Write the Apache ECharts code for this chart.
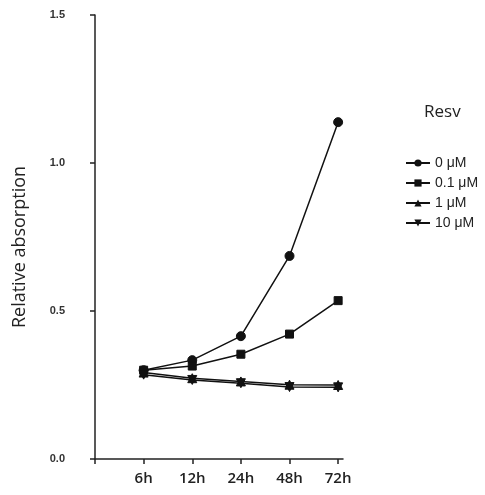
<!DOCTYPE html>
<html>
<head>
<meta charset="utf-8">
<script src="https://cdn.jsdelivr.net/npm/echarts@6/dist/echarts.min.js"></script>
<style>html,body{margin:0;padding:0;background:#fff;}#c{width:485px;height:495px;}</style>
</head>
<body>
<div id="c"></div>
<script>
var categories = ['6h', '12h', '24h', '48h', '72h'];
var seriesNames = ['0 μM', '0.1 μM', '1 μM', '10 μM'];
var v0 = [0.30, 0.334, 0.415, 0.686, 1.138];
var v01 = [0.30, 0.314, 0.354, 0.422, 0.535];
var v1 = [0.292, 0.273, 0.262, 0.251, 0.250];
var v10 = [0.285, 0.267, 0.256, 0.243, 0.242];
var yTicks = [0.0, 0.5, 1.0, 1.5];

function pts(arr) { return arr.map(function (v, i) { return [i + 1, v]; }); }
var symbols = ['circle', 'rect', 'triangle', 'path://M0,0 L10,0 L5,10 Z'];
var values = [v0, v01, v1, v10];

var chart = echarts.init(document.getElementById('c'));
chart.setOption({
  animation: false,
  backgroundColor: '#fff',
  title: {
    text: 'Resv', left: 419, top: 99,
    textStyle: { fontFamily: 'Open Sans', fontSize: 17, fontWeight: 'normal', color: '#222' }
  },
  legend: {
    orient: 'vertical', left: 400, top: 151, itemGap: 6, itemWidth: 24, itemHeight: 9,
    data: seriesNames,
    textStyle: { fontFamily: 'Liberation Sans', fontSize: 14, color: '#222' }
  },
  grid: { left: 95, top: 15, right: 142, bottom: 36 },
  xAxis: {
    type: 'value', min: 0, max: 5.1, interval: 1,
    axisLine: { lineStyle: { color: '#222', width: 1.5 } },
    axisTick: { show: true, length: 5, lineStyle: { color: '#222', width: 1.5 } },
    splitLine: { show: false },
    axisLabel: {
      margin: 12, fontFamily: 'Open Sans', fontSize: 15, fontWeight: 600, color: '#222',
      showMaxLabel: false,
      formatter: function (v) { return categories[v - 1] || ''; }
    }
  },
  yAxis: {
    type: 'value', min: 0, max: 1.5, interval: 0.5,
    axisLine: { show: true, lineStyle: { color: '#222', width: 1.5 } },
    axisTick: { show: true, length: 5, lineStyle: { color: '#222', width: 1.5 } },
    splitLine: { show: false },
    axisLabel: {
      margin: 30, fontFamily: 'Liberation Sans', fontSize: 11, fontWeight: 'bold', color: '#333',
      formatter: function (v) { return v.toFixed(1); }
    },
    name: 'Relative absorption', nameLocation: 'middle', nameGap: 66,
    nameTextStyle: { fontFamily: 'Open Sans', fontSize: 18, color: '#222', padding: [0, 20, 0, 0] }
  },
  series: seriesNames.map(function (n, k) {
    return {
      name: n, type: 'line', data: pts(values[k]),
      symbol: symbols[k], symbolSize: k === 1 ? 8 : 9,
      lineStyle: { color: '#111', width: 1.5 },
      itemStyle: { color: '#111', borderColor: '#111' }
    };
  })
});
</script>
</body>
</html>
